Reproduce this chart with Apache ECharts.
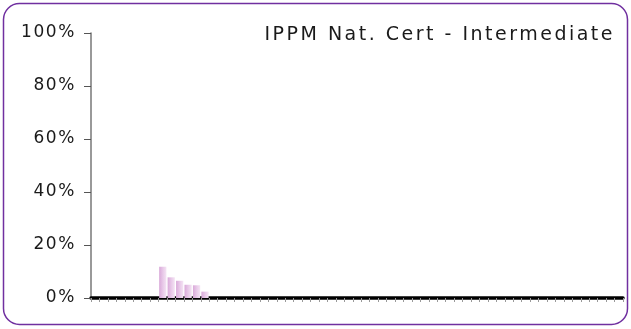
<!DOCTYPE html>
<html>
<head>
<meta charset="utf-8">
<script src="https://cdn.jsdelivr.net/npm/echarts@6/dist/echarts.min.js"></script>
<style>
  html, body { margin: 0; padding: 0; background: #fff; }
  #chart { width: 631px; height: 329px; }
</style>
</head>
<body>
<div id="chart"></div>
<script>
// Share of candidates per score band (fraction of 1), 63 bands along the x axis
const chartTitle = 'IPPM Nat. Cert - Intermediate';
const bandCount = 63;
const categories = Array.from({ length: bandCount }, (_, i) => String(i + 1));
const shareValues = [
  0, 0, 0, 0, 0, 0, 0, 0,
  0.118, 0.078, 0.065, 0.050, 0.048, 0.024
];
const yTicks = [0, 0.2, 0.4, 0.6, 0.8, 1.0];

const seriesData = categories.map((_, i) => (i < shareValues.length ? shareValues[i] : 0));

// Airy lettering: widen the tracking of every text drawn on the canvas
(function () {
  const proto = CanvasRenderingContext2D.prototype;
  const origFill = proto.fillText;
  proto.fillText = function (t, x, y, maxW) {
    const m = /(\d+(?:\.\d+)?)px/.exec(this.font || '');
    const size = m ? parseFloat(m[1]) : 12;
    if ('letterSpacing' in this) this.letterSpacing = (size >= 18 ? 2.5 : 1.6) + 'px';
    return maxW === undefined ? origFill.call(this, t, x, y) : origFill.call(this, t, x, y, maxW);
  };
})();

const chart = echarts.init(document.getElementById('chart'), null, { renderer: 'canvas' });

chart.setOption({
  animation: false,
  backgroundColor: '#fff',
  grid: { left: 91, right: 8, top: 33, bottom: 31, containLabel: false },
  graphic: [
    {
      type: 'rect',
      shape: { x: 3.5, y: 3.5, width: 624, height: 321, r: 16 },
      style: { fill: 'none', stroke: '#7030a0', lineWidth: 1.5 },
      silent: true
    },
    {
      type: 'text',
      x: 615,
      y: 26,
      style: {
        text: chartTitle,
        textAlign: 'right',
        textVerticalAlign: 'top',
        fontFamily: 'DejaVu Sans',
        fontSize: 19,
        fill: '#1a1a1a'
      }
    }
  ],
  xAxis: {
    type: 'category',
    data: categories,
    boundaryGap: true,
    axisLine: { show: true, lineStyle: { color: '#000', width: 3.5 } },
    axisTick: { show: true, interval: 0, length: 4, lineStyle: { color: '#999' } },
    axisLabel: { show: false },
    splitLine: { show: false }
  },
  yAxis: {
    type: 'value',
    min: 0,
    max: 1,
    interval: 0.2,
    axisLine: { show: true, lineStyle: { color: '#777', width: 1.5 } },
    axisTick: { show: true, length: 7, lineStyle: { color: '#555' } },
    axisLabel: {
      margin: 15,
      fontFamily: 'DejaVu Sans',
      fontSize: 17,
      color: '#1a1a1a',
      formatter: v => {
        const hit = yTicks.find(t => Math.abs(t - v) < 1e-9);
        return hit === undefined ? '' : Math.round(hit * 100) + '%';
      }
    },
    splitLine: { show: false }
  },
  series: [
    {
      type: 'bar',
      data: seriesData,
      barCategoryGap: '14%',
      itemStyle: {
        color: new echarts.graphic.LinearGradient(0, 0, 1, 0, [
          { offset: 0, color: '#d9a9d9' },
          { offset: 0.5, color: '#e8c8e8' },
          { offset: 1, color: '#f4e4f4' }
        ])
      },
      z: 1
    }
  ]
});
</script>
</body>
</html>
